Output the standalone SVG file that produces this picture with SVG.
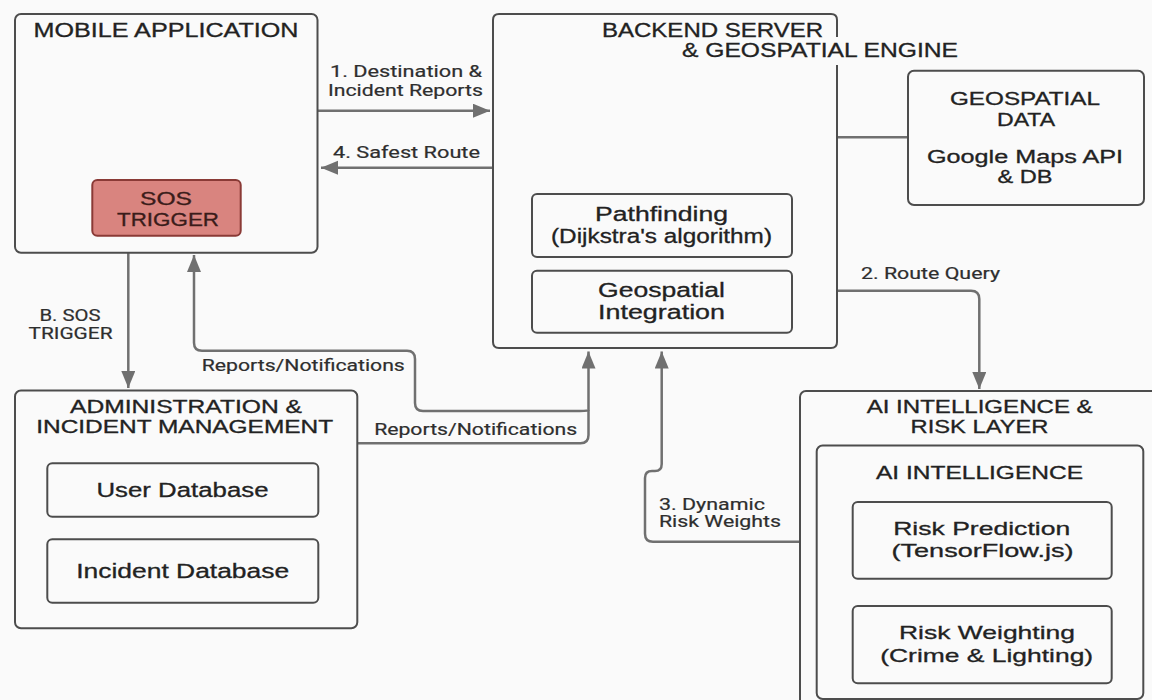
<svg xmlns="http://www.w3.org/2000/svg" width="1152" height="700" viewBox="0 0 1152 700">
  <defs>
    <marker id="arrow" markerUnits="userSpaceOnUse" markerWidth="18" markerHeight="16" refX="17" refY="7" orient="auto">
      <path d="M0,0 L17,7 L0,14 z" fill="#707070"/>
    </marker>
    <style>
      .box { fill: #fafafa; stroke: #4d4d4d; stroke-width: 2; }
      .sub { fill: #fafafa; stroke: #4d4d4d; stroke-width: 2; }
      .sos { fill: #d9847f; stroke: #8a3a36; stroke-width: 2; }
      .wire { fill: none; stroke: #707070; stroke-width: 2.5; }
      text { font-family: "Liberation Sans", Arial, sans-serif; fill: #222; stroke: #222; stroke-width: 0.3; }
      .c { text-anchor: middle; }
      .hd { font-size: 19.5px; }
      .hs { font-size: 17.5px; }
      .it { font-size: 20px; }
      .lb { font-family: Roboto, "Liberation Sans", Arial, sans-serif; font-size: 16px; fill: #2e2e2e; stroke: #2e2e2e; stroke-width: 0.2; }
      .st { fill: #3a1c1a; stroke: #3a1c1a; font-size: 17.5px; }
    </style>
  </defs>

  <rect width="1152" height="700" fill="#fafafa"/>

  <!-- connectors -->
  <g id="connectors">
    <!-- 1. destination & incident reports -->
    <path class="wire" d="M318,110.7 H490" marker-end="url(#arrow)"/>
    <!-- 4. safest route -->
    <path class="wire" d="M493,167.7 H321" marker-end="url(#arrow)"/>
    <!-- backend to geospatial data -->
    <path class="wire" d="M837,137.3 H908"/>
    <!-- 2. route query -->
    <path class="wire" d="M837,290.7 H971 Q979.3,290.7 979.3,299 V389" marker-end="url(#arrow)"/>
    <!-- B. SOS trigger -->
    <path class="wire" d="M128.3,253 V388" marker-end="url(#arrow)"/>
    <!-- reports/notifications: admin to backend -->
    <path class="wire" d="M357,443.3 H580.5 Q588.5,443.3 588.5,435 V351.5" marker-end="url(#arrow)"/>
    <!-- reports/notifications: branch back to mobile app -->
    <path class="wire" d="M588.5,410 Q588.5,411 580,411 H423 Q415,411 415,403 V359 Q415,350.7 407,350.7 H202 Q194,350.7 194,342.7 V255" marker-end="url(#arrow)"/>
    <!-- 3. dynamic risk weights -->
    <path class="wire" d="M800,541.7 H653 Q645,541.7 645,533.7 V478 Q645,471 652,471 H655 Q661.7,471 661.7,464 V351.5" marker-end="url(#arrow)"/>
  </g>

  <!-- mobile application -->
  <g id="mobile-app">
    <rect class="box" x="15" y="14" width="302.5" height="238.7" rx="6"/>
    <text class="c hd" x="166" y="37" textLength="265" lengthAdjust="spacingAndGlyphs">MOBILE APPLICATION</text>
    <g id="sos-trigger">
      <rect class="sos" x="92.3" y="180" width="148.4" height="55.7" rx="5"/>
      <text class="c st" x="166" y="205" textLength="52" lengthAdjust="spacingAndGlyphs">SOS</text>
      <text class="c st" x="168" y="226" textLength="102" lengthAdjust="spacingAndGlyphs">TRIGGER</text>
    </g>
  </g>

  <!-- backend server -->
  <g id="backend">
    <path class="box" d="M837,37 V20 Q837,14 831,14 H499 Q493,14 493,20 V342 Q493,348 499,348 H831 Q837,348 837,342 V65"/>
    <text class="hd" x="602" y="37" textLength="221" lengthAdjust="spacingAndGlyphs">BACKEND SERVER</text>
    <text class="hd" x="682" y="57" textLength="276" lengthAdjust="spacingAndGlyphs">&amp; GEOSPATIAL ENGINE</text>
    <g id="pathfinding">
      <rect class="sub" x="532" y="194" width="260" height="63" rx="5"/>
      <text class="c it" x="661.5" y="220.5" textLength="133" lengthAdjust="spacingAndGlyphs">Pathfinding</text>
      <text class="c it" x="661.5" y="243" textLength="221" lengthAdjust="spacingAndGlyphs">(Dijkstra's algorithm)</text>
    </g>
    <g id="geo-integration">
      <rect class="sub" x="532" y="270.7" width="260" height="62" rx="5"/>
      <text class="c it" x="661.5" y="296.5" textLength="127" lengthAdjust="spacingAndGlyphs">Geospatial</text>
      <text class="c it" x="661.5" y="318.5" textLength="127" lengthAdjust="spacingAndGlyphs">Integration</text>
    </g>
  </g>

  <!-- geospatial data -->
  <g id="geo-data">
    <rect class="box" x="908" y="70.7" width="236" height="134.3" rx="6"/>
    <text class="c hs" x="1025" y="105" textLength="150" lengthAdjust="spacingAndGlyphs">GEOSPATIAL</text>
    <text class="c hs" x="1026" y="126" textLength="58" lengthAdjust="spacingAndGlyphs">DATA</text>
    <text class="c" style="font-size:18px" x="1025" y="162.5" textLength="196" lengthAdjust="spacingAndGlyphs">Google Maps API</text>
    <text class="c" style="font-size:18px" x="1025" y="183" textLength="55" lengthAdjust="spacingAndGlyphs">&amp; DB</text>
  </g>

  <!-- administration -->
  <g id="admin">
    <rect class="box" x="15" y="390.5" width="342.3" height="237.8" rx="6"/>
    <text class="c hs" x="186" y="413.3" textLength="232" lengthAdjust="spacingAndGlyphs">ADMINISTRATION &amp;</text>
    <text class="c hs" x="184.7" y="433.3" textLength="297" lengthAdjust="spacingAndGlyphs">INCIDENT MANAGEMENT</text>
    <g id="user-db">
      <rect class="sub" x="47.3" y="463.3" width="271" height="53.4" rx="5"/>
      <text class="c it" x="182.5" y="496.7" textLength="172" lengthAdjust="spacingAndGlyphs">User Database</text>
    </g>
    <g id="incident-db">
      <rect class="sub" x="47.3" y="539.3" width="271" height="63.4" rx="5"/>
      <text class="c it" x="182.7" y="578.3" textLength="213" lengthAdjust="spacingAndGlyphs">Incident Database</text>
    </g>
  </g>

  <!-- AI intelligence & risk layer -->
  <g id="ai-layer">
    <rect class="box" x="800" y="391" width="360" height="330" rx="6"/>
    <text class="c hs" x="979.7" y="413.3" textLength="226" lengthAdjust="spacingAndGlyphs">AI INTELLIGENCE &amp;</text>
    <text class="c hs" x="979.5" y="432.7" textLength="138" lengthAdjust="spacingAndGlyphs">RISK LAYER</text>
    <g id="ai-intelligence">
      <rect class="sub" x="816.7" y="445.5" width="326.6" height="253.5" rx="6"/>
      <text class="c hs" x="979.5" y="479.3" textLength="207" lengthAdjust="spacingAndGlyphs">AI INTELLIGENCE</text>
      <g id="risk-prediction">
        <rect class="sub" x="852.7" y="502" width="259" height="76.7" rx="5"/>
        <text class="c" style="font-size:19px" x="981.7" y="535" textLength="177" lengthAdjust="spacingAndGlyphs">Risk Prediction</text>
        <text class="c" style="font-size:19px" x="982.5" y="557.3" textLength="182" lengthAdjust="spacingAndGlyphs">(TensorFlow.js)</text>
      </g>
      <g id="risk-weighting">
        <rect class="sub" x="852.7" y="606" width="259" height="77.3" rx="5"/>
        <text class="c" style="font-size:19px" x="987" y="639.3" textLength="176" lengthAdjust="spacingAndGlyphs">Risk Weighting</text>
        <text class="c" style="font-size:19px" x="986.7" y="661.7" textLength="213" lengthAdjust="spacingAndGlyphs">(Crime &amp; Lighting)</text>
      </g>
    </g>
  </g>

  <!-- connector labels -->
  <g id="labels">
    <text class="c lb" x="406" y="77" textLength="152" lengthAdjust="spacingAndGlyphs">1. Destination &amp;</text>
    <text class="c lb" x="405.5" y="95.5" textLength="155" lengthAdjust="spacingAndGlyphs">Incident Reports</text>
    <text class="c lb" x="406.5" y="158" textLength="147" lengthAdjust="spacingAndGlyphs">4. Safest Route</text>
    <text class="c lb" x="930.5" y="279" textLength="139" lengthAdjust="spacingAndGlyphs">2. Route Query</text>
    <text class="c lb" x="70" y="321" textLength="61" lengthAdjust="spacingAndGlyphs">B. SOS</text>
    <text class="c lb" x="70.5" y="339" textLength="84" lengthAdjust="spacingAndGlyphs">TRIGGER</text>
    <text class="c lb" x="303.3" y="371" textLength="203" lengthAdjust="spacingAndGlyphs">Reports/Notifications</text>
    <text class="c lb" x="475.7" y="435" textLength="203" lengthAdjust="spacingAndGlyphs">Reports/Notifications</text>
    <text class="lb" x="659" y="510" textLength="106" lengthAdjust="spacingAndGlyphs">3. Dynamic</text>
    <text class="lb" x="659" y="526.7" textLength="122" lengthAdjust="spacingAndGlyphs">Risk Weights</text>
  </g>
</svg>
